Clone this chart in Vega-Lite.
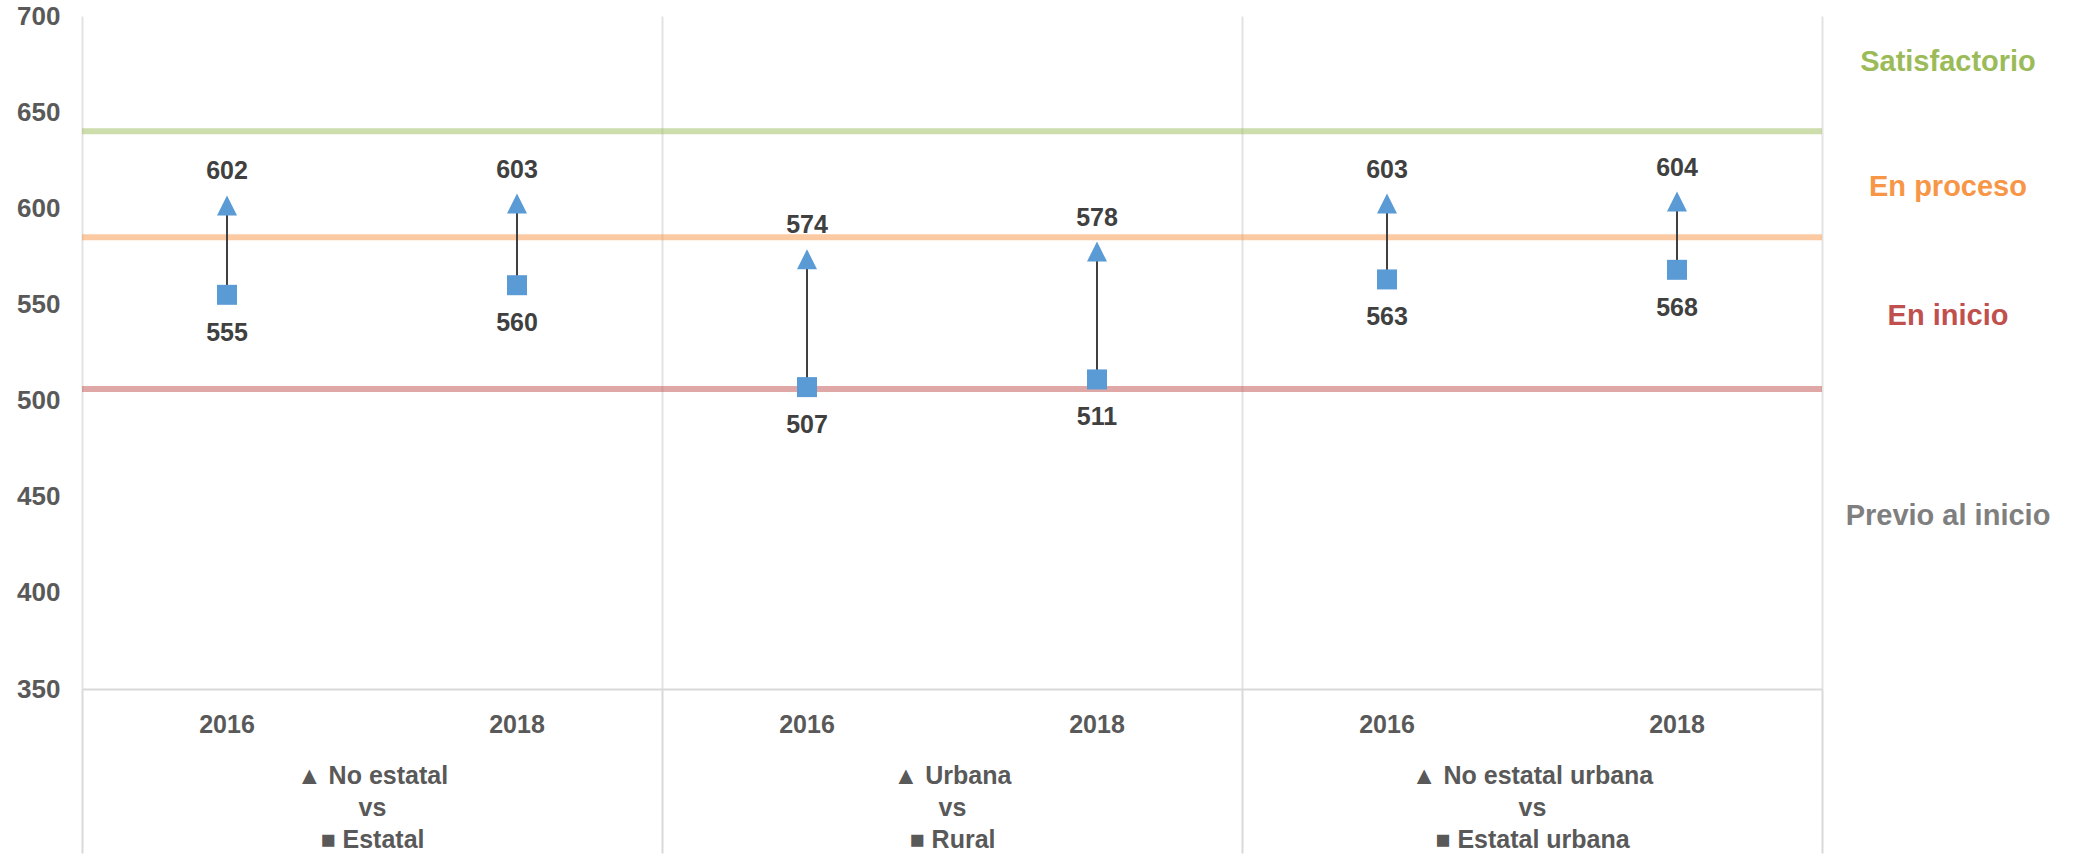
{
  "$schema": "https://vega.github.io/schema/vega-lite/v6.json",
  "padding": {"left": 16, "top": 3, "right": 0, "bottom": 0},
  "background": "white",
  "datasets": {
    "pairs": [
      {"group": "▲ No estatal|vs|■ Estatal", "year": "2016", "top": 602, "bottom": 555},
      {"group": "▲ No estatal|vs|■ Estatal", "year": "2018", "top": 603, "bottom": 560},
      {"group": "▲ Urbana|vs|■ Rural", "year": "2016", "top": 574, "bottom": 507},
      {"group": "▲ Urbana|vs|■ Rural", "year": "2018", "top": 578, "bottom": 511},
      {"group": "▲ No estatal urbana|vs|■ Estatal urbana", "year": "2016", "top": 603, "bottom": 563},
      {"group": "▲ No estatal urbana|vs|■ Estatal urbana", "year": "2018", "top": 604, "bottom": 568}
    ],
    "cuts": [
      {"level": "Satisfactorio", "cut": 640},
      {"level": "En proceso", "cut": 585},
      {"level": "En inicio", "cut": 506}
    ],
    "levels": [
      {"level": "Satisfactorio", "score": 676},
      {"level": "En proceso", "score": 611},
      {"level": "En inicio", "score": 544},
      {"level": "Previo al inicio", "score": 440}
    ]
  },
  "spacing": 0,
  "bounds": "flush",
  "resolve": {"scale": {"color": "independent"}},
  "hconcat": [
    {
      "width": 1740,
      "height": 673,
      "data": {"name": "pairs"},
      "layer": [
        {
          "data": {"name": "cuts"},
          "mark": {"type": "rule", "strokeWidth": 6, "opacity": 0.5},
          "encoding": {
            "y": {"field": "cut", "type": "quantitative", "title": null,
              "scale": {"domain": [350, 700], "nice": false, "zero": false},
              "axis": {"title": null, "values": [350, 400, 450, 500, 550, 600, 650, 700], "domain": false, "ticks": false, "grid": false,
                "labelFontSize": 26, "labelFontWeight": "bold", "labelColor": "#595959", "labelPadding": 22, "labelFont": "Liberation Sans"}},
            "color": {"field": "level", "type": "nominal", "legend": null,
              "scale": {"domain": ["Satisfactorio", "En proceso", "En inicio", "Previo al inicio"], "range": ["#9bbb59", "#f79646", "#c0504d", "#7f7f7f"]}}
          }
        },
        {
          "mark": {"type": "rule", "color": "#404040", "strokeWidth": 2},
          "encoding": {
            "x": {"field": "group", "type": "nominal", "sort": null, "title": null,
              "scale": {"type": "band", "paddingInner": 0, "paddingOuter": 0},
              "axis": {"title": null, "orient": "bottom", "domain": true, "domainColor": "#d9d9d9", "domainWidth": 2,
                "ticks": true, "tickBand": "extent", "tickSize": 164, "tickColor": "#d9d9d9", "tickWidth": 2,
                "grid": true, "gridColor": "#e3e3e3", "gridWidth": 2,
                "labelExpr": "split(datum.label, '|')", "labelFontSize": 25, "labelFont": "Liberation Sans", "labelFontWeight": "bold",
                "labelColor": "#595959", "labelLineHeight": 32, "labelPadding": -90, "labelAngle": 0, "labelLimit": 0,
                "labelOverlap": false, "labelFlush": false, "labelBound": false}},
            "xOffset": {"field": "year", "type": "nominal", "scale": {"paddingInner": 0, "paddingOuter": 0}},
            "y": {"field": "bottom", "type": "quantitative", "title": null},
            "y2": {"field": "top"}
          }
        },
        {
          "mark": {"type": "point", "shape": "square", "filled": true, "size": 400, "color": "#5b9bd5", "opacity": 1},
          "encoding": {
            "x": {"field": "group", "type": "nominal", "sort": null, "title": null},
            "xOffset": {"field": "year", "type": "nominal"},
            "y": {"field": "bottom", "type": "quantitative", "title": null}
          }
        },
        {
          "mark": {"type": "point", "shape": "M0,-0.9L1,1.1L-1,1.1Z", "filled": true, "size": 400, "color": "#5b9bd5", "opacity": 1},
          "encoding": {
            "x": {"field": "group", "type": "nominal", "sort": null, "title": null},
            "xOffset": {"field": "year", "type": "nominal"},
            "y": {"field": "top", "type": "quantitative", "title": null}
          }
        },
        {
          "mark": {"type": "text", "dy": -33, "fontSize": 25, "fontWeight": "bold", "font": "Liberation Sans", "color": "#404040", "baseline": "middle"},
          "encoding": {
            "x": {"field": "group", "type": "nominal", "sort": null, "title": null},
            "xOffset": {"field": "year", "type": "nominal"},
            "y": {"field": "top", "type": "quantitative", "title": null},
            "text": {"field": "top", "type": "quantitative"}
          }
        },
        {
          "mark": {"type": "text", "dy": 38, "fontSize": 25, "fontWeight": "bold", "font": "Liberation Sans", "color": "#404040", "baseline": "middle"},
          "encoding": {
            "x": {"field": "group", "type": "nominal", "sort": null, "title": null},
            "xOffset": {"field": "year", "type": "nominal"},
            "y": {"field": "bottom", "type": "quantitative", "title": null},
            "text": {"field": "bottom", "type": "quantitative"}
          }
        },
        {
          "mark": {"type": "text", "dy": 36, "fontSize": 25, "fontWeight": "bold", "font": "Liberation Sans", "color": "#595959", "baseline": "middle"},
          "encoding": {
            "x": {"field": "group", "type": "nominal", "sort": null, "title": null},
            "xOffset": {"field": "year", "type": "nominal"},
            "y": {"datum": 350},
            "text": {"field": "year", "type": "nominal"}
          }
        }
      ]
    },
    {
      "width": 252,
      "height": 673,
      "data": {"name": "levels"},
      "mark": {"type": "text", "fontSize": 29, "fontWeight": "bold", "font": "Liberation Sans", "baseline": "middle", "align": "center"},
      "encoding": {
        "x": {"datum": "labels", "type": "nominal", "axis": null},
        "y": {"field": "score", "type": "quantitative", "axis": null, "scale": {"domain": [350, 700], "nice": false, "zero": false}},
        "text": {"field": "level", "type": "nominal"},
        "color": {"field": "level", "type": "nominal", "legend": null,
          "scale": {"domain": ["Satisfactorio", "En proceso", "En inicio", "Previo al inicio"], "range": ["#9bbb59", "#f79646", "#c0504d", "#7f7f7f"]}}
      }
    }
  ],
  "config": {
    "view": {"stroke": null},
    "font": "Liberation Sans"
  }
}
